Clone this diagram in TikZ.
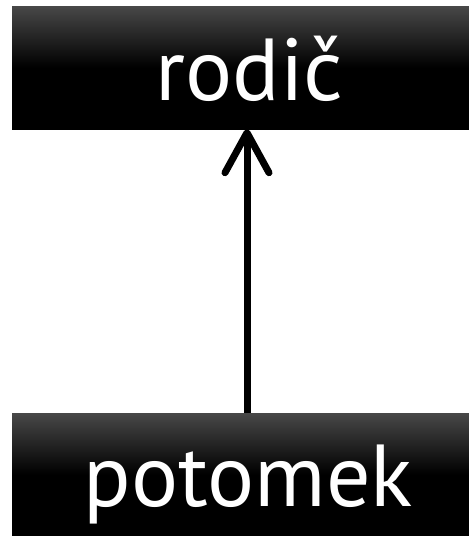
\documentclass[tikz,border=0pt]{standalone}
\usepackage{fontspec}
\setmainfont{PT Sans}
\usetikzlibrary{arrows.meta}
\definecolor{boxtop}{RGB}{72,72,72}
\tikzset{
  classbox/.style={minimum width=470pt, minimum height=123pt, inner sep=0pt,
    top color=boxtop, bottom color=black, middle color=black, draw=none},
  classlabel/.style={text=white, font=\fontsize{88}{100}\selectfont, anchor=base, inner sep=0pt},
  inherit/.style={line width=7pt, -{Straight Barb[length=40pt,width=44pt,round]}}
}
\begin{document}
\begin{tikzpicture}[x=1pt,y=1pt]
\useasboundingbox (0,0) rectangle (469,-536);
\node[classbox] (rodic) at (247,-67.5) {};
\node[classbox] (potomek) at (247,-474.5) {};
\node[classlabel] (trodic) at (249.5,-100) {rodič};
\node[classlabel] (tpotomek) at (248.5,-506) {potomek};
\draw[inherit] (potomek.north) -- (rodic.south);
\end{tikzpicture}
\end{document}
